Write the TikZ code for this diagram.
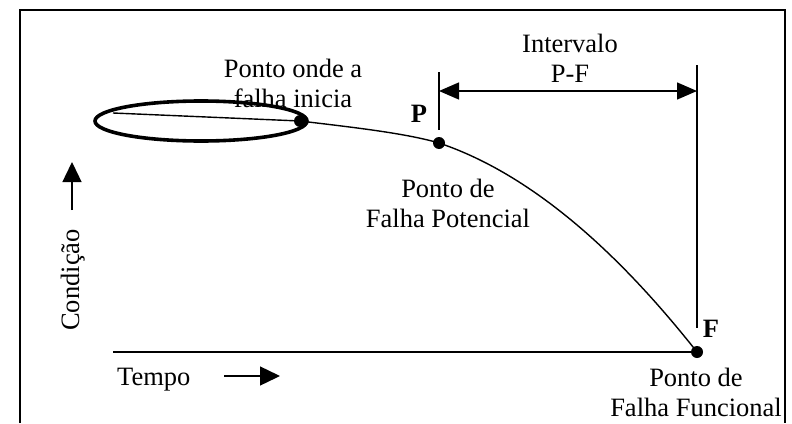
\documentclass[tikz,border=0pt]{standalone}
\usepackage{fontspec}
\setmainfont{Liberation Serif}
\usetikzlibrary{arrows.meta}
\begin{document}
\begin{tikzpicture}[x=1pt,y=-1pt,
  txt/.style={font=\fontsize{26.5}{30}\selectfont, inner sep=0pt, align=center},
  lbl/.style={font=\fontsize{26.5}{30}\selectfont\bfseries, inner sep=0pt},
  thin/.style={line width=1.4pt},
  dot/.style={circle, fill=black, inner sep=0pt, minimum size=12pt},
  bigtips/.style={{Triangle[length=20pt,width=17pt]}-{Triangle[length=20pt,width=17pt]}},
  axtip/.style={-{Triangle[length=20pt,width=19pt]}}]
\useasboundingbox (0,0) rectangle (792,423);
% frame (open at bottom)
\draw[line width=1.2pt] (20,423) -- (20,10) -- (785,10) -- (785,423);
% named points
\coordinate (yT) at (113,352);
\coordinate (lineS) at (113,113);
\node[dot] (S) at (300,121) {};
\node[dot] (P) at (439,143) {};
\node[dot] (F) at (697,352) {};
\coordinate (Ptop) at (439,72);
\coordinate (Pbot) at (439,130);
\coordinate (Ftop) at (697,65);
\coordinate (Fbot) at (697,328);
\coordinate (Pa) at (439,91);
\coordinate (Fa) at (697,91);
% ellipse
\draw[line width=3.6pt] (201,121) ellipse [x radius=106, y radius=20];
% time axis
\draw[thin] (yT) -- (F.center);
% curve
\draw[thin] (lineS) -- (S.center);
\draw[thin] (S.center) .. controls (350,127) and (405,133) .. (P.center)
  .. controls (549,180) and (640,280) .. (F.center);
% vertical markers
\draw[thin] (Ptop) -- (Pbot);
\draw[thin] (Ftop) -- (Fbot);
\draw[thin, bigtips] (Pa) -- (Fa);
% axis arrows
\coordinate (cA) at (72,210);
\coordinate (cB) at (72,162);
\draw[thin, axtip] (cA) -- (cB);
\coordinate (tA) at (224,376);
\coordinate (tB) at (280,376);
\draw[thin, axtip] (tA) -- (tB);
% labels
\node[txt] (tInt) at (570,58) {Intervalo\\P-F};
\node[txt] (tIni) at (293,83) {Ponto onde a\\falha inicia};
\node[txt] (tPot) at (448,203) {Ponto de\\Falha Potencial};
\node[txt] (tFun) at (696,392) {Ponto de\\Falha Funcional};
\node[lbl, anchor=base] (lP) at (419,122) {P};
\node[lbl, anchor=base] (lF) at (711,337) {F};
\node[txt, anchor=base west] (tTempo) at (117,385) {Tempo};
\node[txt, anchor=base, rotate=90] (tCond) at (79,280) {Condição};
\end{tikzpicture}
\end{document}
